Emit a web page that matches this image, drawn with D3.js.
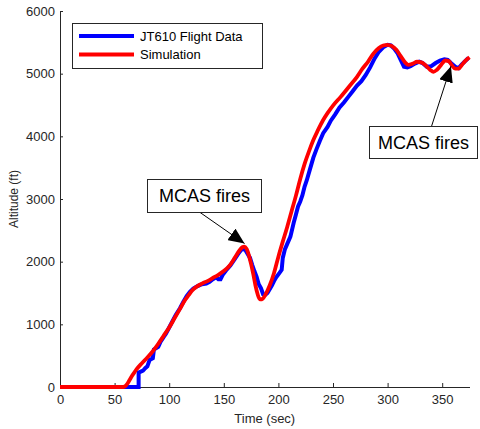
<!DOCTYPE html>
<html>
<head>
<meta charset="utf-8">
<script src="https://cdn.jsdelivr.net/npm/d3@7"></script>
<style>
  body { margin: 0; background: #fff; }
  svg { font-family: "Liberation Sans", Arial, sans-serif; }
</style>
</head>
<body>
<div id="chart"></div>
<script>
// time (sec), altitude (ft)
const flightTime = [0, 62, 72, 72, 76, 78, 80, 82, 85, 86, 90, 92, 95, 97, 100, 103, 106, 110, 113, 116, 119, 122, 126, 130, 134, 137, 140, 143, 145, 147, 149, 152, 156, 160, 163, 166, 168, 170, 172, 174, 176, 178, 180, 182, 184, 186, 188, 190, 192, 194, 196, 198, 201, 203, 204, 206, 208, 211, 214, 216, 218, 220, 222, 224, 226, 229, 232, 235, 238, 241, 245, 248, 252, 256, 260, 264, 268, 272, 276, 280, 284, 288, 292, 296, 300, 303, 306, 309, 312, 315, 318, 321, 325, 329, 332, 336, 340, 344, 348, 352, 355, 358, 362, 365, 368, 371, 374];
const flightAlt = [0, 0, 0, 230, 260, 300, 330, 430, 460, 600, 640, 720, 800, 850, 950, 1050, 1150, 1260, 1360, 1450, 1520, 1570, 1610, 1640, 1650, 1680, 1720, 1750, 1720, 1720, 1790, 1860, 1940, 2040, 2120, 2190, 2200, 2180, 2120, 2060, 1950, 1850, 1760, 1640, 1580, 1480, 1470, 1500, 1560, 1620, 1690, 1750, 1820, 1870, 2060, 2200, 2280, 2400, 2620, 2750, 2880, 2960, 3060, 3200, 3300, 3480, 3660, 3800, 3930, 4050, 4150, 4250, 4350, 4460, 4540, 4630, 4720, 4810, 4880, 4980, 5100, 5240, 5350, 5420, 5460, 5450, 5400, 5330, 5220, 5110, 5100, 5120, 5160, 5190, 5170, 5110, 5120, 5170, 5210, 5230, 5220, 5170, 5110, 5090, 5150, 5200, 5250];

const simTime = [0, 58, 60, 62, 64, 66, 68, 70, 75, 80, 85, 90, 95, 100, 105, 110, 115, 118, 121, 125, 130, 135, 140, 145, 150, 155, 160, 164, 167, 169, 171, 173, 175, 177, 179, 181, 183, 185, 188, 192, 196, 200, 204, 208, 212, 216, 220, 224, 228, 232, 236, 241, 245, 250, 257, 265, 272, 277, 282, 287, 292, 296, 300, 304, 308, 312, 316, 319, 323, 327, 331, 335, 339, 342, 345, 349, 353, 356, 359, 362, 365, 368, 371, 375];
const simAlt = [0, 0, 15, 60, 120, 180, 230, 280, 380, 470, 570, 690, 820, 950, 1100, 1250, 1400, 1470, 1540, 1600, 1650, 1690, 1740, 1790, 1850, 1930, 2060, 2170, 2230, 2240, 2200, 2100, 1960, 1800, 1620, 1480, 1400, 1400, 1470, 1620, 1820, 2080, 2320, 2550, 2800, 3050, 3320, 3560, 3760, 3940, 4090, 4260, 4370, 4490, 4630, 4800, 4950, 5080, 5190, 5320, 5410, 5450, 5460, 5440, 5380, 5280, 5180, 5140, 5160, 5190, 5180, 5130, 5060, 5030, 5060, 5140, 5210, 5200, 5130, 5080, 5080, 5140, 5200, 5260];

const xTicks = [0, 50, 100, 150, 200, 250, 300, 350];
const yTicks = [0, 1000, 2000, 3000, 4000, 5000, 6000];
const seriesNames = ["JT610 Flight Data", "Simulation"];
const seriesColors = ["#0000ff", "#ff0000"];
const annotations = [
  { text: "MCAS fires", t: 169, alt: 2290, bx: 147, by: 179, bw: 114, bh: 33 },
  { text: "MCAS fires", t: 358, alt: 5120, bx: 369, by: 126, bw: 108, bh: 32 }
];

const width = 480, height = 429;
const svg = d3.select("#chart").append("svg")
  .attr("width", width)
  .attr("height", height);

const x = d3.scaleLinear().domain([0, 375]).range([60, 469.5]);
const y = d3.scaleLinear().domain([0, 6000]).range([387, 11]);

const axisColor = "#262626";

const xAxis = d3.axisBottom(x).tickValues(xTicks).tickFormat(d3.format("d"))
  .tickSizeInner(-4).tickSizeOuter(0).tickPadding(8);
const gx = svg.append("g").attr("transform", `translate(0, ${y(0)})`).call(xAxis);
const yAxis = d3.axisLeft(y).tickValues(yTicks).tickFormat(d3.format("d"))
  .tickSizeInner(-3).tickSizeOuter(0).tickPadding(5);
const gy = svg.append("g").attr("transform", `translate(${x(0)}, 0)`).call(yAxis);

[gx, gy].forEach(g => {
  g.selectAll("path, line").attr("stroke", axisColor);
  g.selectAll("text").attr("fill", axisColor).attr("font-size", 13)
    .attr("font-family", "Liberation Sans, Arial, sans-serif");
});

svg.append("text")
  .attr("x", (x(0) + x(375)) / 2)
  .attr("y", 423)
  .attr("text-anchor", "middle")
  .attr("font-size", 13)
  .attr("fill", axisColor)
  .text("Time (sec)");

svg.append("text")
  .attr("transform", `translate(18, ${(y(0) + y(6000)) / 2}) rotate(-90)`)
  .attr("text-anchor", "middle")
  .attr("font-size", 12)
  .attr("fill", axisColor)
  .text("Altitude (ft)");

const flight = flightTime.map((t, i) => [t, flightAlt[i]]);
const sim = simTime.map((t, i) => [t, simAlt[i]]);

const lineLinear = d3.line().x(d => x(d[0])).y(d => y(d[1]));
const lineSmooth = d3.line().x(d => x(d[0])).y(d => y(d[1])).curve(d3.curveMonotoneX);

svg.append("path")
  .attr("d", lineLinear(flight))
  .attr("fill", "none")
  .attr("stroke", seriesColors[0])
  .attr("stroke-width", 4)
  .attr("stroke-linejoin", "miter");

svg.append("path")
  .attr("d", lineSmooth(sim))
  .attr("fill", "none")
  .attr("stroke", seriesColors[1])
  .attr("stroke-width", 3.8)
  .attr("stroke-linejoin", "round");

// legend
const legend = svg.append("g").attr("class", "legend");
legend.append("rect")
  .attr("x", 72.5).attr("y", 23.5)
  .attr("width", 190).attr("height", 45)
  .attr("fill", "#fff")
  .attr("stroke", axisColor);
seriesNames.forEach((name, i) => {
  const ly = 36 + i * 18.5;
  legend.append("line")
    .attr("x1", 79).attr("x2", 134)
    .attr("y1", ly).attr("y2", ly)
    .attr("stroke", seriesColors[i])
    .attr("stroke-width", 4);
  legend.append("text")
    .attr("x", 140).attr("y", ly + 4.5)
    .attr("font-size", 13)
    .attr("fill", "#000")
    .text(name);
});

// annotations
const defs = svg.append("defs");
defs.append("marker")
  .attr("id", "head")
  .attr("viewBox", "0 0 10 10")
  .attr("refX", 10).attr("refY", 5)
  .attr("markerWidth", 16).attr("markerHeight", 14)
  .attr("markerUnits", "userSpaceOnUse")
  .attr("orient", "auto")
  .attr("preserveAspectRatio", "none")
  .append("path")
  .attr("d", "M0,0 L10,5 L0,10 Z")
  .attr("fill", "#000");

annotations.forEach(a => {
  const g = svg.append("g");
  const tipX = x(a.t), tipY = y(a.alt);
  const startX = a.bx + a.bw * (a.by > tipY ? 0.58 : 0.46);
  const startY = a.by > tipY ? a.by : a.by + a.bh;
  g.append("line")
    .attr("x1", startX).attr("y1", startY)
    .attr("x2", tipX).attr("y2", tipY)
    .attr("stroke", "#000")
    .attr("stroke-width", 1)
    .attr("marker-end", "url(#head)");
  g.append("rect")
    .attr("x", a.bx + 0.5).attr("y", a.by + 0.5)
    .attr("width", a.bw).attr("height", a.bh)
    .attr("fill", "#fff")
    .attr("stroke", axisColor);
  g.append("text")
    .attr("x", a.bx + a.bw / 2 + 0.5)
    .attr("y", a.by + a.bh / 2 + 6.5)
    .attr("text-anchor", "middle")
    .attr("font-size", 18)
    .attr("fill", "#000")
    .text(a.text);
});
</script>
</body>
</html>
